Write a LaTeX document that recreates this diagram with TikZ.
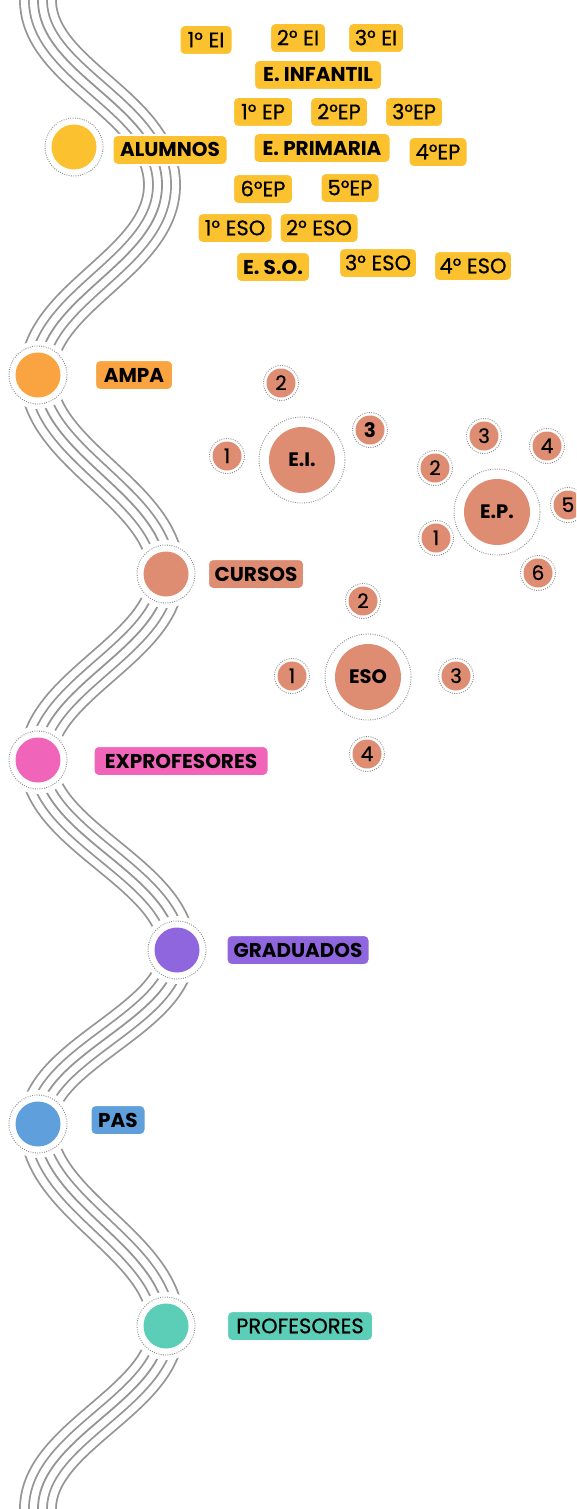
\documentclass[tikz,border=0pt]{standalone}
\usepackage{fontspec}
\setmainfont{Poppins}
\newfontfamily\pmed[FakeBold=0.6]{Poppins}
\definecolor{cyel}{HTML}{FBC12F}
\definecolor{campa}{HTML}{F9A440}
\definecolor{ccur}{HTML}{DF8D72}
\definecolor{cexp}{HTML}{F065B9}
\definecolor{cgrad}{HTML}{9066DE}
\definecolor{cpas}{HTML}{5F9FDB}
\definecolor{cprof}{HTML}{5CCDB6}
\definecolor{cline}{HTML}{959595}
\definecolor{cdot}{HTML}{8A8A8A}
\begin{document}
\begin{tikzpicture}[x=1pt,y=-1pt,
  tag/.style={rounded corners=5pt, fill=#1, draw=white, line width=2pt, inner sep=0pt,
    minimum height=30pt, text height=14.5pt, text depth=0pt, align=center,
    font=\fontsize{21}{22}\pmed},
  btag/.style={tag=#1, text height=14pt, font=\fontsize{20}{21}\selectfont\bfseries},
  mainc/.style={circle, fill=#1, minimum size=45pt, inner sep=0pt},
  ringst/.style={draw=cdot, line width=0.9pt, dash pattern=on 0.9pt off 1.4pt},
  bigc/.style={circle, fill=ccur, minimum size=66pt, inner sep=0pt, text height=13.5pt, text depth=0pt,
    font=\fontsize{19.5}{20}\selectfont\bfseries},
  smallc/.style={circle, fill=ccur, minimum size=29pt, inner sep=0pt, text height=14pt, text depth=0pt,
    font=\fontsize{20}{20}\pmed}
]
\path[use as bounding box] (0,0) rectangle (576,1509);
\clip (0,0) rectangle (576,1509);
\fill[white] (0,0) rectangle (576,1509);

% station coordinates
\coordinate (pal) at (74,147);
\coordinate (pam) at (38,375);
\coordinate (pcu) at (166,574);
\coordinate (pex) at (38,760);
\coordinate (pgr) at (177,950);
\coordinate (ppa) at (38,1124);
\coordinate (ppr) at (166,1326);
\coordinate (wtop) at (38,-30);
\coordinate (wbot) at (38,1540);

% wave of five parallel lines
\foreach \w/\c in {37.8/cline,34.2/white,19.8/cline,16.2/white,1.8/cline}{
  \draw[line width=\w pt, draw=\c] (wtop) -- (38,0)
    .. controls (38,74) and (162,106) .. (162,185)
    .. controls (162,263) and (38,297) .. (pam)
    .. controls (38,455) and (166,494) .. (pcu)
    .. controls (166,648) and (38,686) .. (pex)
    .. controls (38,836) and (177,874) .. (pgr)
    .. controls (177,1020) and (38,1054) .. (ppa)
    .. controls (38,1205) and (166,1245) .. (ppr)
    .. controls (166,1400) and (38,1436) .. (38,1509) -- (wbot);
}

% main stations
\foreach \p/\n/\c in {pal/alc/cyel, pam/amc/campa, pcu/cuc/ccur, pex/exc/cexp, pgr/grc/cgrad, ppa/pac/cpas, ppr/prc/cprof}{
  \fill[white] (\p) circle (34pt);
  \draw[ringst] (\p) circle (29pt);
  \node[mainc=\c] (\n) at (\p) {};
}

% labels
\node[btag=cyel, minimum width=115pt] (alumnos) at (170,150) {ALUMNOS};
\node[btag=campa, minimum width=78pt] (ampa) at (134,375) {AMPA};
\node[btag=ccur, minimum width=96pt] (cursos) at (256,574) {CURSOS};
\node[btag=cexp, minimum width=175pt] (expro) at (181,761) {EXPROFESORES};
\node[btag=cgrad, minimum width=143pt] (grad) at (298,950) {GRADUADOS};
\node[btag=cpas, minimum width=55pt] (pas) at (118,1120) {PAS};
\node[tag=cprof, minimum width=146pt] (prof) at (300,1326) {PROFESORES};

% yellow course tags
\node[tag=cyel, minimum width=53pt] (ei1) at (206,40) {1° EI};
\node[tag=cyel, minimum width=56pt] (ei2) at (298,38) {2° EI};
\node[tag=cyel, minimum width=56pt] (ei3) at (376,38) {3° EI};
\node[btag=cyel, minimum width=128pt] (einf) at (318,75) {E. INFANTIL};
\node[tag=cyel, minimum width=60pt] (ep1) at (263,112) {1° EP};
\node[tag=cyel, minimum width=58pt] (ep2) at (339,112) {2°EP};
\node[tag=cyel, minimum width=58pt] (ep3) at (414,112) {3°EP};
\node[btag=cyel, minimum width=137pt] (eprim) at (322,148) {E. PRIMARIA};
\node[tag=cyel, minimum width=59pt] (ep4) at (438,152) {4°EP};
\node[tag=cyel, minimum width=60pt] (ep6) at (263,189) {6°EP};
\node[tag=cyel, minimum width=59pt] (ep5) at (350,188) {5°EP};
\node[tag=cyel, minimum width=75pt] (eso1t) at (235,228) {1° ESO};
\node[tag=cyel, minimum width=79pt] (eso2t) at (319,228) {2° ESO};
\node[btag=cyel, minimum width=74pt] (esot) at (273,267) {E. S.O.};
\node[tag=cyel, minimum width=78pt] (eso3t) at (378,263) {3° ESO};
\node[tag=cyel, minimum width=78pt] (eso4t) at (473,266) {4° ESO};

% course clusters: big circles
\foreach \p/\n/\t in {{(302,460)}/ei/E.I., {(497,512)}/ep/E.P., {(368,677)}/eso/ESO}{
  \draw[ringst] \p circle (43pt);
  \node[bigc] (\n) at \p {\t};
}
% small numbered circles
\foreach \p/\n/\t in {{(227,456)}/eia/1, {(281,383)}/eib/2,
  {(436,538)}/epa/1, {(435,468)}/epb/2, {(484,436)}/epc/3, {(547,446)}/epd/4, {(568,505)}/epe/5, {(538,573)}/epf/6,
  {(292,676)}/esoa/1, {(363,601)}/esob/2, {(456,676)}/esoc/3, {(367,754)}/esod/4}{
  \draw[ringst] \p circle (17.5pt);
  \node[smallc] (\n) at \p {\t};
}
\draw[ringst] (370,430) circle (17.5pt);
\node[smallc, font=\fontsize{20}{20}\selectfont\bfseries] (eic) at (370,430) {3};
\end{tikzpicture}
\end{document}
